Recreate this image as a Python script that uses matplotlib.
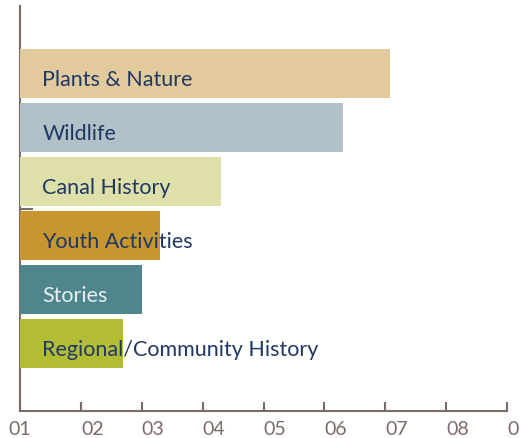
import matplotlib
matplotlib.use("Agg")
import matplotlib.pyplot as plt

# ---------------- DATA ----------------
categories = ["Plants & Nature", "Wildlife", "Canal History",
              "Youth Activities", "Stories", "Regional/Community History"]
values = [6.08, 5.30, 3.30, 2.30, 2.00, 1.69]
bar_colors = ["#e3ca9c", "#b0c1c8", "#dfe0a9", "#c9952e", "#4f868d", "#b3bd34"]
label_colors = ["#1f3864", "#1f3864", "#1f3864", "#1f3864", "#e9eef0", "#1f3864"]
tick_labels = ["01", "02", "03", "04", "05", "06", "07", "08", "0"]

axis_color = "#7b6b66"
plt.rcParams["font.family"] = ["Lato", "DejaVu Sans"]

# ---------------- FIGURE ----------------
fig = plt.figure(figsize=(5.21, 4.38), dpi=100)
ax = fig.add_axes([20 / 521, 27 / 438, 487 / 521, 405 / 438])

ypos = list(range(len(categories)))
ax.barh(ypos, values, height=0.907, color=bar_colors, zorder=3)

for y, name, col in zip(ypos, categories, label_colors):
    ax.annotate(name, xy=(0, y), xytext=(16, -4.5), textcoords="offset points",
                ha="left", va="center", fontsize=15.5, color=col, zorder=4)

ax.set_xlim(0, 8)
ax.set_ylim(6.25, -1.25)

ax.set_xticks(range(len(tick_labels)))
ax.set_xticklabels(tick_labels, fontsize=14, color=axis_color)
for i, lbl in enumerate(ax.get_xticklabels()):
    lbl.set_horizontalalignment("center" if i == 0 else "left")
ax.tick_params(axis="x", direction="in", length=6.5, width=1.5,
               color=axis_color, pad=7)

# the one small mark on the left axis
ax.set_yticks([2.5])
ax.set_yticklabels([""])
ax.tick_params(axis="y", direction="in", length=9, width=1.5, color=axis_color)

for side in ["top", "right"]:
    ax.spines[side].set_visible(False)
for side in ["left", "bottom"]:
    ax.spines[side].set_color(axis_color)
    ax.spines[side].set_linewidth(1.5)
    ax.spines[side].set_zorder(2)

fig.savefig("out.png", dpi=100)
